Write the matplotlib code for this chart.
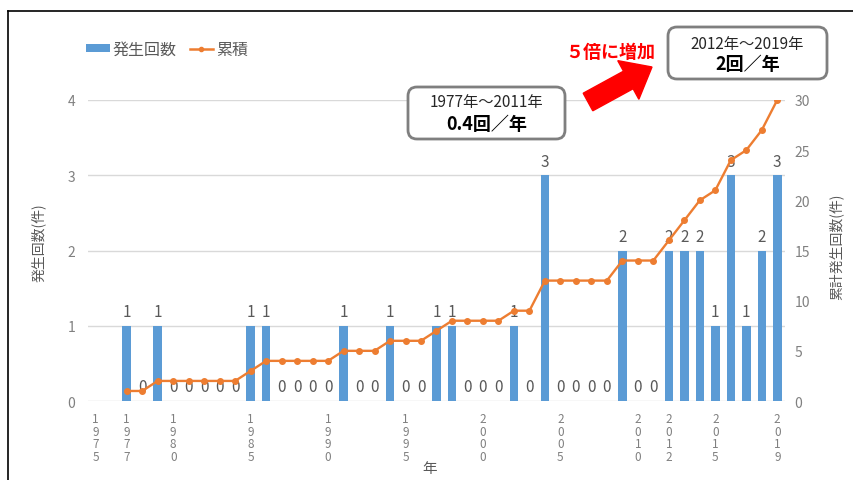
import matplotlib
matplotlib.use("Agg")
import matplotlib.pyplot as plt
from matplotlib.patches import Patch, FancyBboxPatch, FancyArrow
from matplotlib.lines import Line2D
import numpy as np

plt.rcParams['font.family'] = ['Noto Sans CJK JP', 'DejaVu Sans']

# ---- data ----
years = list(range(1975, 2020))
counts = [None, None,
          1, 0, 1, 0, 0, 0, 0, 0, 1, 1, 0, 0, 0, 0, 1, 0, 0, 1, 0, 0,
          1, 1, 0, 0, 0, 1, 0, 3, 0, 0, 0, 0, 2, 0, 0,
          2, 2, 2, 1, 3, 1, 2, 3]
cumulative = [None, None,
              1, 1, 2, 2, 2, 2, 2, 2, 3, 4, 4, 4, 4, 4, 5, 5, 5, 6, 6, 6,
              7, 8, 8, 8, 8, 9, 9, 12, 12, 12, 12, 12, 14, 14, 14,
              16, 18, 20, 21, 24, 25, 27, 30]
labeled_years = [1975, 1977, 1980, 1985, 1990, 1995, 2000, 2005, 2010, 2012, 2015, 2019]

series_names = ['発生回数', '累積']
left_label = '発生回数(件)'
right_label = '累計発生回数(件)'
x_label = '年'
box1_lines = ['1977年～2011年', '0.4回／年']
box2_lines = ['2012年～2019年', '2回／年']
callout = '５倍に増加'

BLUE = '#5B9BD5'
ORANGE = '#ED7D31'
GRID = '#D9D9D9'
TXT = '#595959'
TICK = '#808080'

W, H = 854, 481
fig = plt.figure(figsize=(W / 100, H / 100), dpi=100)
fig.patch.set_facecolor('white')

def fx(px):
    return px / W

def fy(py):
    return 1 - py / H

ax = fig.add_axes([fx(88), fy(402), fx(785) - fx(88), fy(101) - fy(402)])
ax2 = ax.twinx()

x = np.arange(len(years))
bar_vals = [np.nan if v is None else v for v in counts]
ax.bar(x, bar_vals, width=0.55, color=BLUE, zorder=2)
ax.set_xlim(-0.5, len(years) - 0.5)
ax.set_ylim(0, 4)
ax.set_yticks(range(0, 5))
ax.grid(axis='y', color=GRID, linewidth=1, zorder=0)
ax.set_axisbelow(True)
for s in ax.spines.values():
    s.set_visible(False)
for s in ax2.spines.values():
    s.set_visible(False)

# value labels over every bar
for xi, v in zip(x, counts):
    if v is None:
        continue
    ax.annotate(str(v), (xi, v), xytext=(0, 4), textcoords='offset points',
                ha='center', va='bottom', fontsize=11, color=TXT, zorder=3)

# cumulative line on the secondary axis
line_vals = [np.nan if v is None else v for v in cumulative]
ax2.plot(x, line_vals, color=ORANGE, linewidth=1.7, marker='o', markersize=4, zorder=4)
ax2.set_ylim(0, 30)
ax2.set_yticks(range(0, 31, 5))

# stacked-digit year labels
tick_pos = [years.index(y) for y in labeled_years]
ax.set_xticks(tick_pos)
ax.set_xticklabels(['\n'.join(str(y)) for y in labeled_years], fontsize=8.5,
                   color=TICK, linespacing=0.95)
ax.tick_params(axis='x', length=0, pad=8)
ax.tick_params(axis='y', length=0, pad=9, labelsize=10, labelcolor=TICK)
ax2.tick_params(axis='y', length=0, pad=7, labelsize=10, labelcolor=TICK)

ax.set_ylabel(left_label, fontsize=10, color=TXT)
ax.yaxis.set_label_coords(-0.06, 0.53)
ax2.set_ylabel(right_label, fontsize=10, color=TXT, rotation=90)
ax2.yaxis.set_label_coords(1.063, 0.515)
ax.set_xlabel(x_label, fontsize=10.5, color=TXT)
ax.xaxis.set_label_coords(0.49, -0.2)

# legend
handles = [Patch(facecolor=BLUE, edgecolor='none'),
           Line2D([0], [0], color=ORANGE, linewidth=1.8, marker='o', markersize=3)]
fig.legend(handles, series_names, loc='center left', bbox_to_anchor=(fx(72), fy(50)),
           ncol=2, frameon=False, fontsize=11.5, labelcolor=TXT, handlelength=1.5,
           handleheight=0.45, columnspacing=0.8, handletextpad=0.15)

# rounded annotation boxes (inch coordinates, 100 px per inch)
T = fig.dpi_scale_trans

def box(x0, y0, x1, y1, lines, cy1, cy2):
    fig.add_artist(FancyBboxPatch((x0 / 100, (H - y1) / 100), (x1 - x0) / 100, (y1 - y0) / 100,
                                  boxstyle='round,pad=0,rounding_size=0.09',
                                  transform=T, facecolor='white', edgecolor='#7F7F7F',
                                  linewidth=2, zorder=10))
    cx = (x0 + x1) / 2
    fig.text(fx(cx), fy(cy1), lines[0], ha='center', va='center', fontsize=11,
             color='#262626', zorder=11)
    fig.text(fx(cx), fy(cy2), lines[1], ha='center', va='center', fontsize=13,
             color='#000000', fontweight='bold', zorder=11)

box(408, 88, 565, 140, box1_lines, 103, 125)
box(668, 28, 827, 80, box2_lines, 44, 65)

# red arrow
tx, ty = 588, 103
hx, hy = 652, 68
fig.add_artist(FancyArrow(tx / 100, (H - ty) / 100, (hx - tx) / 100, -(hy - ty) / 100,
                          width=0.2, head_width=0.44, head_length=0.27,
                          length_includes_head=True, transform=T,
                          color='#FF0000', zorder=10))
fig.text(fx(610), fy(52), callout, ha='center', va='center', fontsize=13,
         color='#FF0000', fontweight='bold')

# outer frame (top and left edges)
fig.add_artist(Line2D([fx(8), 1.0], [fy(12), fy(12)], color='black', linewidth=1.2,
                      transform=fig.transFigure))
fig.add_artist(Line2D([fx(8), fx(8)], [fy(12), 0.0], color='black', linewidth=1.2,
                      transform=fig.transFigure))

fig.savefig('out.png', dpi=100)
